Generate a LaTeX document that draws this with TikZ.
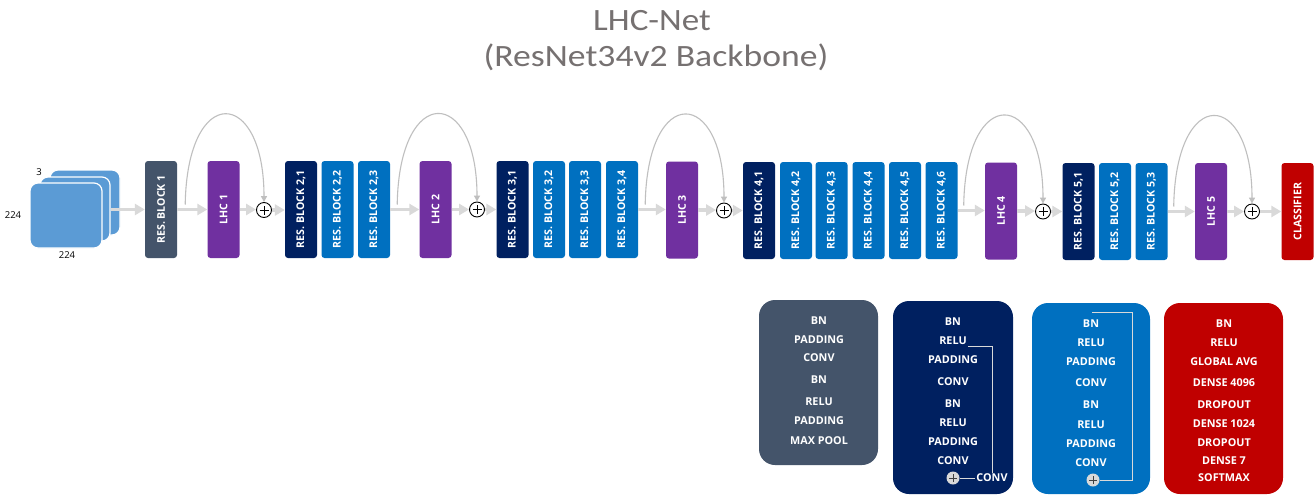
\documentclass[tikz,border=0pt]{standalone}
\usepackage{graphicx}
\usepackage{fontspec}
\setmainfont{Open Sans}
\newfontfamily\titlefont{Carlito}
\usetikzlibrary{arrows.meta,calc}
\definecolor{slate}{HTML}{44546A}
\definecolor{navy}{HTML}{002060}
\definecolor{mblue}{HTML}{0070C0}
\definecolor{lpurple}{HTML}{7030A0}
\definecolor{cred}{HTML}{C00000}
\definecolor{inblue}{HTML}{5B9BD5}
\definecolor{arrgrey}{HTML}{D9D9D9}
\definecolor{arcgrey}{HTML}{BFBFBF}
\definecolor{titlegrey}{HTML}{767171}
\tikzset{
  blk/.style={rectangle, rounded corners=3pt, minimum width=32pt, minimum height=97pt, inner sep=0pt, text=white, font=\bfseries\fontsize{10.6}{12}\selectfont},
  resa/.style={blk, fill=slate},
  resd/.style={blk, fill=navy},
  resb/.style={blk, fill=mblue},
  lhc/.style={blk, fill=lpurple},
  clsf/.style={blk, fill=cred},
  insq/.style={rectangle, rounded corners=8pt, fill=inblue, draw=white, line width=1.2pt},
  dimlbl/.style={font=\fontsize{9.5}{11}\selectfont, inner sep=0pt},
  arr/.style={draw=arrgrey, line width=3.6pt, -{Triangle[length=10pt,width=11pt]}},
  skip/.style={draw=arcgrey, line width=1.1pt, -{Triangle[length=6pt,width=6pt]}},
  oplus/.style={circle, draw=black, line width=0.9pt, fill=white, minimum size=15pt, inner sep=0pt,
    path picture={\draw[black, line width=1pt]
      ([xshift=-4.5pt]path picture bounding box.center) -- ([xshift=4.5pt]path picture bounding box.center)
      ([yshift=-4.5pt]path picture bounding box.center) -- ([yshift=4.5pt]path picture bounding box.center);}},
  lplus/.style={circle, fill=arrgrey, minimum size=13pt, inner sep=0pt,
    path picture={\draw[black!75, line width=1pt]
      ([xshift=-4pt]path picture bounding box.center) -- ([xshift=4pt]path picture bounding box.center)
      ([yshift=-4pt]path picture bounding box.center) -- ([yshift=4pt]path picture bounding box.center);}},
  lbox/.style={rectangle, rounded corners=16pt, inner sep=0pt},
  ltxt/.style={text=white, font=\bfseries\fontsize{10.8}{12}\selectfont, inner sep=1pt},
  legline/.style={draw=arrgrey, line width=0.8pt},
  ttl/.style={text=titlegrey, font=\titlefont\fontsize{31}{36}\selectfont, inner sep=0pt, anchor=base},
}
\begin{document}
\begin{tikzpicture}[x=1pt,y=-1pt]
\useasboundingbox (0,0) rectangle (1315,496);
\fill[white] (0,0) rectangle (1315,496);

% title
\node[ttl] (t1) at (652,30) {\scalebox{1.13}[1]{LHC-Net}};
\node[ttl] (t2) at (656,66) {\scalebox{1.15}[1]{(ResNet34v2 Backbone)}};

% input stack
\node[insq, minimum width=70pt, minimum height=65pt] (inB) at (85,202.5) {};
\node[insq, minimum width=70pt, minimum height=64pt] (inM) at (75,209) {};
\node[insq, minimum width=72pt, minimum height=65pt] (inF) at (66,215.5) {};
\node[dimlbl] (d3) at (39,172) {3};
\node[dimlbl] (d224a) at (13,215) {224};
\node[dimlbl] (d224b) at (67,255) {224};

% main row
\node[resa] (res1) at (161,209.5) {\rotatebox{90}{RES. BLOCK 1}};
\node[lhc]  (lhc1) at (223.5,209.5) {\rotatebox{90}{LHC 1}};
\node[oplus] (p1) at (264,210) {};
\node[resd] (b21) at (301,209.5) {\rotatebox{90}{RES. BLOCK 2,1}};
\node[resb] (b22) at (337.5,209.5) {\rotatebox{90}{RES. BLOCK 2,2}};
\node[resb] (b23) at (374,209.5) {\rotatebox{90}{RES. BLOCK 2,3}};
\node[lhc]  (lhc2) at (435.5,209.5) {\rotatebox{90}{LHC 2}};
\node[oplus] (p2) at (477,209.5) {};
\node[resd] (b31) at (512.5,209.5) {\rotatebox{90}{RES. BLOCK 3,1}};
\node[resb] (b32) at (549,209.5) {\rotatebox{90}{RES. BLOCK 3,2}};
\node[resb] (b33) at (585,209.5) {\rotatebox{90}{RES. BLOCK 3,3}};
\node[resb] (b34) at (622,209.5) {\rotatebox{90}{RES. BLOCK 3,4}};
\node[lhc]  (lhc3) at (682,210) {\rotatebox{90}{LHC 3}};
\node[oplus] (p3) at (724,210.5) {};
\node[resd] (b41) at (759,210.5) {\rotatebox{90}{RES. BLOCK 4,1}};
\node[resb] (b42) at (796,210.5) {\rotatebox{90}{RES. BLOCK 4,2}};
\node[resb] (b43) at (831.5,210.5) {\rotatebox{90}{RES. BLOCK 4,3}};
\node[resb] (b44) at (868.5,210.5) {\rotatebox{90}{RES. BLOCK 4,4}};
\node[resb] (b45) at (905,210.5) {\rotatebox{90}{RES. BLOCK 4,5}};
\node[resb] (b46) at (941.5,210.5) {\rotatebox{90}{RES. BLOCK 4,6}};
\node[lhc]  (lhc4) at (1001,211) {\rotatebox{90}{LHC 4}};
\node[oplus] (p4) at (1043,211.5) {};
\node[resd] (b51) at (1078.5,211.5) {\rotatebox{90}{RES. BLOCK 5,1}};
\node[resb] (b52) at (1115,211.5) {\rotatebox{90}{RES. BLOCK 5,2}};
\node[resb] (b53) at (1151.5,211.5) {\rotatebox{90}{RES. BLOCK 5,3}};
\node[lhc]  (lhc5) at (1211,211.5) {\rotatebox{90}{LHC 5}};
\node[oplus] (p5) at (1252,211.5) {};
\node[clsf] (cls) at (1297.5,211.5) {\rotatebox{90}{CLASSIFIER}};

% horizontal arrows
\draw[arr] (inM.east |- res1.west) -- (res1.west);
\draw[arr] (res1.east) -- (res1.east -| lhc1.west);
\draw[arr] (lhc1.east) -- (lhc1.east -| p1.west);
\draw[arr] (p1.east) -- (p1.east -| b21.west);
\draw[arr] (b23.east) -- (b23.east -| lhc2.west);
\draw[arr] (lhc2.east) -- (lhc2.east -| p2.west);
\draw[arr] (p2.east) -- (p2.east -| b31.west);
\draw[arr] (b34.east) -- (b34.east -| lhc3.west);
\draw[arr] (lhc3.east) -- (lhc3.east -| p3.west);
\draw[arr] (p3.east) -- (p3.east -| b41.west);
\draw[arr] (b46.east) -- (b46.east -| lhc4.west);
\draw[arr] (lhc4.east) -- (lhc4.east -| p4.west);
\draw[arr] (p4.east) -- (p4.east -| b51.west);
\draw[arr] (b53.east) -- (b53.east -| lhc5.west);
\draw[arr] (lhc5.east) -- (lhc5.east -| p5.west);
\draw[arr] (p5.east) -- (p5.east -| cls.west);

% skip arcs
\coordinate (s1) at ($(res1.east)+(8,-5)$);
\coordinate (s2) at ($(b23.east)+(7,-5)$);
\coordinate (s3) at ($(b34.east)+(7,-5)$);
\coordinate (s4) at ($(b46.east)+(6,-5)$);
\coordinate (s5) at ($(b53.east)+(6,-5)$);
\draw[skip] (s1) .. controls +(2,-122) and +(0,-115) .. (p1.north);
\draw[skip] (s2) .. controls +(2,-122) and +(0,-115) .. (p2.north);
\draw[skip] (s3) .. controls +(2,-122) and +(0,-115) .. (p3.north);
\draw[skip] (s4) .. controls +(2,-122) and +(0,-115) .. (p4.north);
\draw[skip] (s5) .. controls +(2,-122) and +(0,-115) .. (p5.north);

% legend boxes
\node[lbox, fill=slate, minimum width=119pt, minimum height=165pt] (leg1) at (818.5,382.5) {};
\node[lbox, fill=navy, minimum width=120pt, minimum height=193pt] (leg2) at (953,397.5) {};
\node[lbox, fill=mblue, minimum width=118pt, minimum height=191pt] (leg3) at (1091,398.5) {};
\node[lbox, fill=cred, minimum width=119pt, minimum height=191pt] (leg4) at (1223.5,398.5) {};

\foreach \t/\y [count=\i] in {BN/321, PADDING/340, CONV/358, BN/380, RELU/402, PADDING/421, MAX POOL/441}
  \node[ltxt] (l1t\i) at (819,\y) {\t};
\foreach \t/\y [count=\i] in {BN/322, RELU/341, PADDING/360, CONV/382, BN/404, RELU/423, PADDING/442, CONV/461}
  \node[ltxt] (l2t\i) at (953,\y) {\t};
\foreach \t/\y [count=\i] in {BN/324, RELU/343, PADDING/362, CONV/383, BN/405, RELU/425, PADDING/444, CONV/463}
  \node[ltxt] (l3t\i) at (1091,\y) {\t};
\foreach \t/\y [count=\i] in {BN/324, RELU/343, GLOBAL AVG/362, DENSE 4096/383, DROPOUT/405, DENSE 1024/424, DROPOUT/443, DENSE 7/461, SOFTMAX/478}
  \node[ltxt] (l4t\i) at (1224,\y) {\t};

% legend shortcut lines
\node[lplus] (l2p) at (953,478) {};
\node[ltxt] (l2c) at (992,478) {CONV};
\draw[legline] (l2t2.south east) -| (l2c.north);
\draw[legline] (l2p) -- (l2c);
\node[lplus] (l3p) at (1093,480) {};
\coordinate (l3s) at (1092,312);
\draw[legline] (l3s) -- (1132,312) |- (l3p);
\end{tikzpicture}
\end{document}
